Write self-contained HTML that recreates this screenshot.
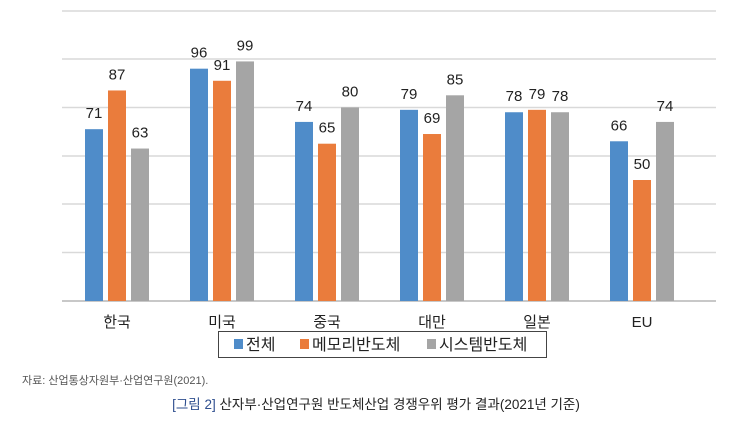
<!DOCTYPE html>
<html><head><meta charset="utf-8"><style>
body{margin:0;background:#fff;width:752px;height:417px;overflow:hidden;font-family:"Liberation Sans","Noto Sans CJK KR",sans-serif}
</style></head><body>
<svg width="752" height="417" xmlns="http://www.w3.org/2000/svg" font-family="Liberation Sans, Noto Sans CJK KR, sans-serif">
<g stroke="#d9d9d9" stroke-width="1.5">
<line x1="62" x2="716" y1="11" y2="11"/><line x1="62" x2="716" y1="59" y2="59"/><line x1="62" x2="716" y1="107.5" y2="107.5"/><line x1="62" x2="716" y1="156" y2="156"/><line x1="62" x2="716" y1="204" y2="204"/><line x1="62" x2="716" y1="252.5" y2="252.5"/>
</g>
<line x1="62" x2="716" y1="301" y2="301" stroke="#c8c8c8" stroke-width="2"/>
<g id="bars"></g>
<g font-size="15" fill="#222" text-anchor="middle">
<text x="117" y="327">한국</text><text x="222" y="327">미국</text><text x="327" y="327">중국</text><text x="432" y="327">대만</text><text x="537" y="327">일본</text><text x="642" y="327">EU</text>
</g>
<rect x="218.5" y="331.5" width="328" height="26" fill="#fff" stroke="#444" stroke-width="1"/>
<rect x="234" y="339" width="9" height="10" fill="#4f8cc9"/><text x="246" y="350" font-size="16" fill="#222">전체</text>
<rect x="300" y="339" width="9" height="10" fill="#ea7c3c"/><text x="312" y="350" font-size="16" fill="#222">메모리반도체</text>
<rect x="427" y="339" width="9" height="10" fill="#a5a5a5"/><text x="439" y="350" font-size="16" fill="#222">시스템반도체</text>
<text x="22" y="384" font-size="11" fill="#555">자료: 산업통상자원부·산업연구원(2021).</text>
<text x="376" y="409" font-size="13.5" text-anchor="middle" fill="#222"><tspan fill="#2f4f8f">[그림 2]</tspan> 산자부·산업연구원 반도체산업 경쟁우위 평가 결과(2021년 기준)</text>
</svg>
<script>
var d=[[71,87,63],[96,91,99],[74,65,80],[79,69,85],[78,79,78],[66,50,74]];
var c=["#4f8cc9","#ea7c3c","#a5a5a5"],g=document.getElementById("bars"),s="";
d.forEach(function(r,i){var cx=117+i*105;r.forEach(function(v,j){var x=cx-32+j*23,h=v*2.42,y=301-h;
s+='<rect x="'+x+'" y="'+y+'" width="18" height="'+h+'" fill="'+c[j]+'"/>';
s+='<text x="'+(x+9)+'" y="'+(y-11)+'" font-size="15" text-anchor="middle" fill="#222">'+v+'</text>';});});
g.innerHTML=s;
</script>
</body></html>
